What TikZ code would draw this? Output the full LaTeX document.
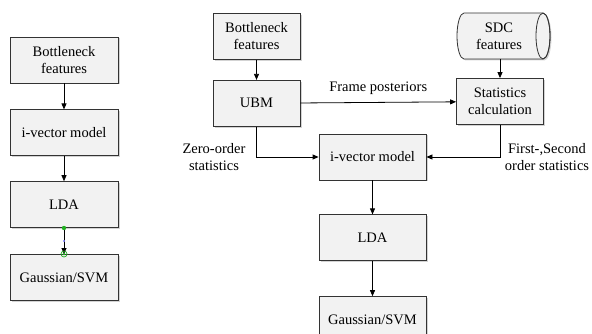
\documentclass[tikz,border=0pt]{standalone}
\usepackage{fontspec}
\setmainfont{Liberation Serif}
\usepackage{tikz}
\usetikzlibrary{positioning}
\usetikzlibrary{arrows.meta,shadows,calc}
\definecolor{boxgray}{HTML}{F2F2F2}
\definecolor{markgreen}{HTML}{22B022}
\tikzstyle{shd} = [drop shadow={shadow xshift=1.5pt, shadow yshift=-1.5pt, opacity=0.35}]
\tikzstyle{blk} = [rectangle, draw=black!80, fill=boxgray, line width=0.8pt, align=center, minimum height=46pt, inner sep=2pt, shd]
\tikzstyle{blk_l} = [blk, minimum width=108pt]
\tikzstyle{blk_r} = [blk, minimum width=87pt]
\tikzstyle{blk_c} = [blk, minimum width=107pt]
\tikzstyle{lbl} = [align=center, inner sep=0pt]

\begin{document}
\begin{tikzpicture}[x=1pt,y=-1pt,->,>={Triangle[length=6pt,width=5pt]},line width=0.8pt,node distance=26pt,
  every node/.style={font=\fontsize{14.5}{17}\selectfont}]
\useasboundingbox (0,0) rectangle (592,334);
% left pipeline
\node [blk_l] (bnl) at (64,60) {Bottleneck\\features};
\node [blk_l, below=of bnl] (ivl) {i-vector model};
\node [blk_l, below=25pt of ivl] (ldal) {LDA};
\node [blk_l, below=of ldal] (gsl) {Gaussian/SVM};
\draw (bnl) -- (ivl);
\draw (ivl) -- (ldal);
\draw (ldal) -- (gsl);
% selection marks
\fill [markgreen, -] (ldal.south) circle (2.2pt);
\fill [blue!50, -] ($(ldal.south)!0.5!(gsl.north)$) circle (1.2pt);
\draw [markgreen, -, line width=0.7pt] (gsl.north) circle (3pt);
\fill [markgreen, -] (gsl.north) circle (1.4pt);
% right pipeline
\node [blk_r] (bnr) at (256.5,36.5) {Bottleneck\\features};
\node [blk_r, below=20pt of bnr] (ubm) {UBM};
% SDC store (drum)
\path [draw=black!80, fill=boxgray, shd, -] (464,13) -- (543,13)
  arc [start angle=90, end angle=-90, x radius=7pt, y radius=23pt] -- (464,59)
  arc [start angle=270, end angle=90, x radius=7pt, y radius=23pt] -- cycle;
\draw [black!80, -] (543,36) ellipse [x radius=7pt, y radius=23pt];
\node [lbl] (sdc) at (499,36) {SDC\\features};
\coordinate (sdcb) at (500,59);
\node [blk_r] (stat) at (500,101.5) {Statistics\\calculation};
\node [blk_c] (ivr) at (372.5,157) {i-vector model};
\node [blk_c, below=34pt of ivr] (ldar) {LDA};
\node [blk_c, below=35pt of ldar] (gsr) {Gaussian/SVM};
\draw (bnr) -- (ubm);
\draw (sdcb) -- (stat);
\draw (ubm) -- node [lbl, above=7pt] {Frame posteriors} (stat);
\draw (ubm) |- (ivr);
\draw (stat) |- (ivr);
\draw (ivr) -- (ldar);
\draw (ldar) -- (gsr);
\node [lbl] (zo) at (214,157) {Zero-order\\statistics};
\node [lbl] (fs) at (547,157) {First-,Second\\order statistics};
\end{tikzpicture}
\end{document}
